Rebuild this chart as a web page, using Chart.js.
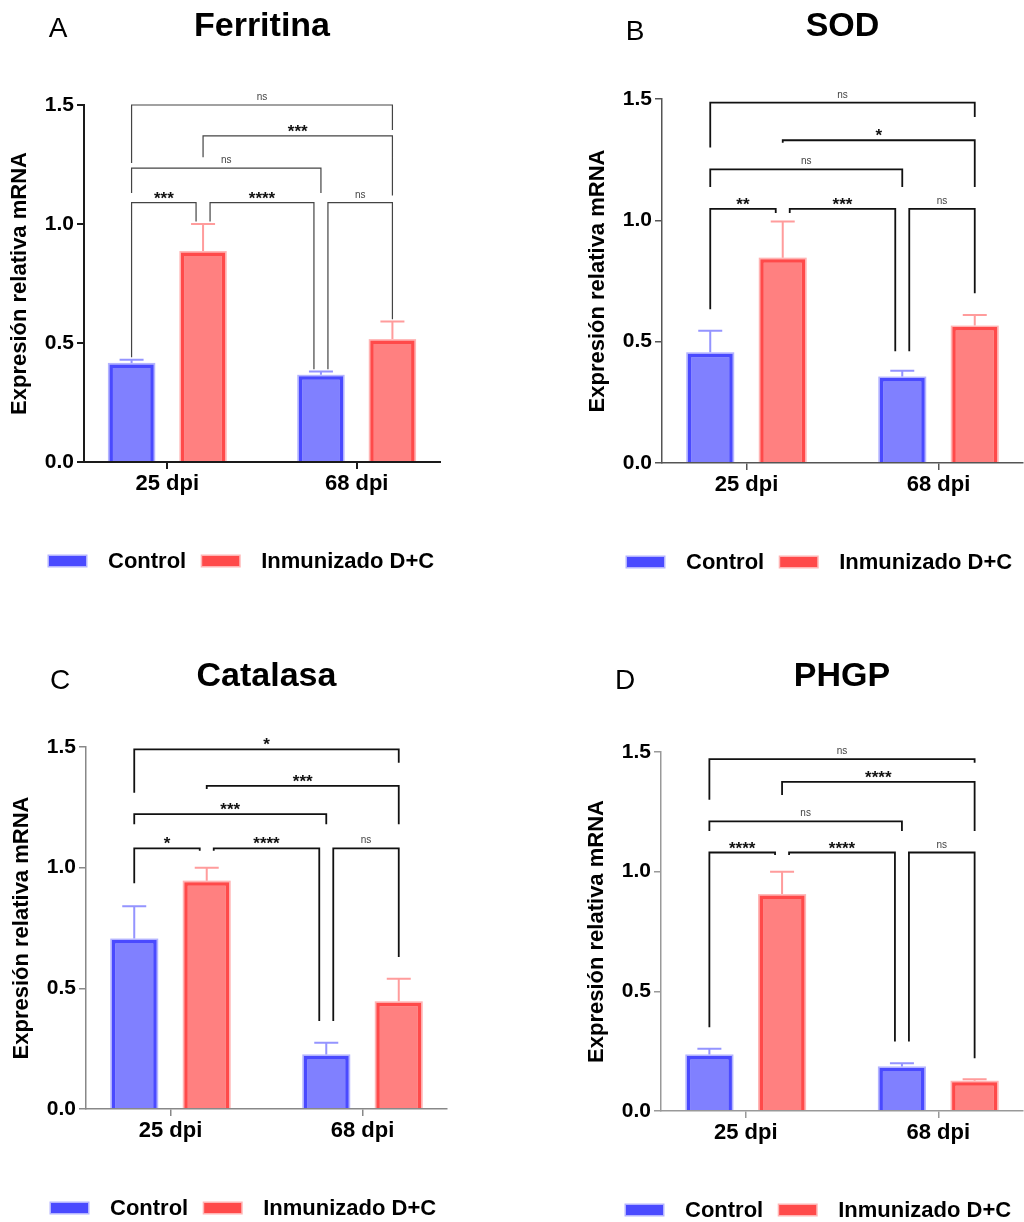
<!DOCTYPE html>
<html>
<head>
<meta charset="utf-8">
<title>Expresión relativa mRNA</title>
<script src="https://cdn.jsdelivr.net/npm/chart.js@4.4.1/dist/chart.umd.min.js"></script>
<style>
  body { margin: 0; background: #fff; }
  #wrap { position: relative; width: 1024px; height: 1222px; }
  canvas { position: absolute; }
</style>
</head>
<body>
<div id="wrap">
  <canvas id="ferritina" width="512" height="611" style="left:0;top:0"></canvas>
  <canvas id="sod" width="512" height="611" style="left:512px;top:0"></canvas>
  <canvas id="catalasa" width="512" height="611" style="left:0;top:611px"></canvas>
  <canvas id="phgp" width="512" height="611" style="left:512px;top:611px"></canvas>
</div>
<script>
const categories = ['25 dpi', '68 dpi'];
const seriesNames = ['Control', 'Inmunizado D+C'];
const yTitle = 'Expresión relativa mRNA';
const yTicks = [0, 0.5, 1.0, 1.5];

// mean and SEM per category
const ferritinaControl = [0.41, 0.36];
const ferritinaControlSem = [0.02, 0.02];
const ferritinaInmunizado = [0.88, 0.51];
const ferritinaInmunizadoSem = [0.12, 0.08];

const sodControl = [0.45, 0.35];
const sodControlSem = [0.095, 0.03];
const sodInmunizado = [0.84, 0.56];
const sodInmunizadoSem = [0.155, 0.05];

const catalasaControl = [0.70, 0.22];
const catalasaControlSem = [0.14, 0.055];
const catalasaInmunizado = [0.94, 0.44];
const catalasaInmunizadoSem = [0.06, 0.10];

const phgpControl = [0.23, 0.18];
const phgpControlSem = [0.03, 0.02];
const phgpInmunizado = [0.90, 0.12];
const phgpInmunizadoSem = [0.10, 0.013];

// bars: 0 = Control 25, 1 = Inmunizado 25, 2 = Control 68, 3 = Inmunizado 68
// [from bar, to bar, bracket level, left leg end, right leg end, label]
const ferritinaBrackets = [
  [0, 3, 1.50, 1.256, 1.395, 'ns'],
  [1, 3, 1.37, 1.28, 1.12, '***'],
  [0, 2, 1.235, 1.13, 1.13, 'ns'],
  [0, 1, 1.09, 0.44, 1.01, '***'],
  [1, 2, 1.09, 1.01, 0.39, '****'],
  [2, 3, 1.09, 0.39, 0.60, 'ns']
];
const sodBrackets = [
  [0, 3, 1.485, 1.30, 1.426, 'ns'],
  [1, 3, 1.33, 1.32, 1.137, '*'],
  [0, 2, 1.21, 1.137, 1.137, 'ns'],
  [0, 1, 1.047, 0.634, 1.03, '**'],
  [1, 2, 1.047, 1.03, 0.46, '***'],
  [2, 3, 1.047, 0.46, 0.70, 'ns']
];
const catalasaBrackets = [
  [0, 3, 1.49, 1.31, 1.435, '*'],
  [1, 3, 1.339, 1.326, 1.18, '***'],
  [0, 2, 1.222, 1.18, 1.18, '***'],
  [0, 1, 1.08, 0.935, 1.07, '*'],
  [1, 2, 1.08, 1.07, 0.365, '****'],
  [2, 3, 1.08, 0.365, 0.63, 'ns']
];
const phgpBrackets = [
  [0, 3, 1.47, 1.30, 1.455, 'ns'],
  [1, 3, 1.375, 1.32, 1.17, '****'],
  [0, 2, 1.21, 1.17, 1.17, 'ns'],
  [0, 1, 1.08, 0.35, 1.07, '****'],
  [1, 2, 1.08, 1.07, 0.29, '****'],
  [2, 3, 1.08, 0.29, 0.22, 'ns']
];

const FONT = "'Liberation Sans', Arial, Helvetica, sans-serif";
const blue = { fill: '#8080ff', edge: '#4a4aff', err: '#9494ff', glow: '#b4b4ff' };
const red = { fill: '#ff8080', edge: '#ff4a4a', err: '#ff9c9c', glow: '#ffb4b4' };

const panels = [
  { id: 'ferritina', title: 'Ferritina', letter: 'A',
    ctrl: ferritinaControl, ctrlSem: ferritinaControlSem, inm: ferritinaInmunizado, inmSem: ferritinaInmunizadoSem,
    brackets: ferritinaBrackets,
    area: { l: 84, t: 105, r: 440, b: 462 }, titleY: 27, letterX: 58, letterY: 29,
    lineW: 1.2, lineC: '#444', axisC: '#1a1a1a', axisW: 2 },
  { id: 'sod', title: 'SOD', letter: 'B',
    ctrl: sodControl, ctrlSem: sodControlSem, inm: sodInmunizado, inmSem: sodInmunizadoSem,
    brackets: sodBrackets,
    area: { l: 150, t: 99, r: 511, b: 463 }, titleY: 27, letterX: 123, letterY: 32,
    lineW: 1.8, lineC: '#111', axisC: '#555', axisW: 1.5 },
  { id: 'catalasa', title: 'Catalasa', letter: 'C',
    ctrl: catalasaControl, ctrlSem: catalasaControlSem, inm: catalasaInmunizado, inmSem: catalasaInmunizadoSem,
    brackets: catalasaBrackets,
    area: { l: 86, t: 136, r: 447, b: 498 }, titleY: 66, letterX: 60, letterY: 70,
    lineW: 1.8, lineC: '#111', axisC: '#888', axisW: 1.5 },
  { id: 'phgp', title: 'PHGP', letter: 'D',
    ctrl: phgpControl, ctrlSem: phgpControlSem, inm: phgpInmunizado, inmSem: phgpInmunizadoSem,
    brackets: phgpBrackets,
    area: { l: 149, t: 141, r: 511, b: 500 }, titleY: 66, letterX: 113, letterY: 70,
    lineW: 1.8, lineC: '#111', axisC: '#999', axisW: 1.5 }
];

const extras = {
  id: 'extras',
  beforeDatasetsDraw(chart) {
    // soft outer edge round each bar, like the GraphPad export
    const ctx = chart.ctx;
    ctx.save();
    [blue, red].forEach((col, d) => {
      ctx.fillStyle = col.glow;
      chart.getDatasetMeta(d).data.forEach(bar => {
        ctx.fillRect(bar.x - bar.width / 2 - 1.5, bar.y - 1.5, bar.width + 3, bar.base - bar.y + 1.5);
      });
    });
    ctx.restore();
  },
  afterDatasetsDraw(chart) {
    const p = panels.find(q => q.id === chart.canvas.id);
    const ctx = chart.ctx, y = chart.scales.y;
    const barX = k => chart.getDatasetMeta(k % 2).data[Math.floor(k / 2)].x;
    ctx.save();
    // error bars, mean + SEM only
    [[p.ctrl, p.ctrlSem, blue], [p.inm, p.inmSem, red]].forEach(([vals, sem, col], d) => {
      chart.getDatasetMeta(d).data.forEach((bar, i) => {
        const top = y.getPixelForValue(vals[i] + sem[i]);
        ctx.strokeStyle = col.err;
        ctx.lineWidth = 2;
        ctx.beginPath();
        ctx.moveTo(bar.x, bar.y - 1.5);
        ctx.lineTo(bar.x, top);
        ctx.moveTo(bar.x - 12, top);
        ctx.lineTo(bar.x + 12, top);
        ctx.stroke();
      });
    });
    // significance brackets
    ctx.strokeStyle = p.lineC;
    ctx.lineWidth = p.lineW;
    p.brackets.forEach(([a, b, lvl, endA, endB, txt]) => {
      const same = p.brackets.filter(q => q[2] === lvl);
      let xa = barX(a), xb = barX(b);
      if (same.some(q => q[1] === a)) xa += 7;
      if (same.some(q => q[0] === b)) xb -= 7;
      const yl = y.getPixelForValue(lvl);
      ctx.beginPath();
      ctx.moveTo(xa, y.getPixelForValue(endA));
      ctx.lineTo(xa, yl);
      ctx.lineTo(xb, yl);
      ctx.lineTo(xb, y.getPixelForValue(endB));
      ctx.stroke();
      ctx.textAlign = 'center';
      ctx.textBaseline = 'alphabetic';
      if (txt === 'ns') {
        ctx.font = '10px ' + FONT;
        ctx.fillStyle = '#444';
        ctx.fillText(txt, (xa + xb) / 2, yl - 5);
      } else {
        ctx.font = 'bold 17px ' + FONT;
        ctx.fillStyle = '#111';
        ctx.fillText(txt, (xa + xb) / 2, yl + 1);
      }
    });
    ctx.restore();
  },
  afterDraw(chart) {
    const p = panels.find(q => q.id === chart.canvas.id);
    const ctx = chart.ctx, area = chart.chartArea;
    ctx.save();
    ctx.fillStyle = '#000';
    ctx.textBaseline = 'middle';
    ctx.textAlign = 'center';
    ctx.font = 'bold 34px ' + FONT;
    ctx.fillText(p.title, (area.left + area.right) / 2, p.titleY);
    ctx.font = '28px ' + FONT;
    ctx.fillText(p.letter, p.letterX, p.letterY);
    // legend
    const ly = area.bottom + 99;
    let x = area.left - 35;
    ctx.textAlign = 'left';
    ctx.font = 'bold 22px ' + FONT;
    chart.data.datasets.forEach((ds, d) => {
      const col = d ? red : blue;
      ctx.fillStyle = col.glow;
      ctx.fillRect(x - 1.5, ly - 6.5, 40, 13);
      ctx.fillStyle = col.edge;
      ctx.fillRect(x, ly - 5, 37, 10);
      ctx.fillStyle = '#000';
      ctx.fillText(ds.label, x + 59, ly + 1);
      x += 59 + ctx.measureText(ds.label).width + 16;
    });
    ctx.restore();
  }
};

panels.forEach(p => {
  const mk = (name, vals, col) => ({
    label: name,
    data: categories.map((c, i) => ({ x: i, y: vals[i] })),
    backgroundColor: col.fill,
    borderColor: col.edge,
    borderWidth: 3.5,
    categoryPercentage: 0.755,
    barPercentage: 0.62
  });
  new Chart(document.getElementById(p.id), {
    type: 'bar',
    data: { datasets: [mk(seriesNames[0], p.ctrl, blue), mk(seriesNames[1], p.inm, red)] },
    options: {
      responsive: false,
      animation: false,
      layout: { padding: { left: p.area.l - 84, top: p.area.t, right: 512 - p.area.r, bottom: 611 - p.area.b - 60 } },
      plugins: { legend: { display: false }, tooltip: { enabled: false } },
      scales: {
        x: {
          type: 'linear', min: -0.44, max: 1.44, offset: false,
          afterBuildTicks: s => { s.ticks = categories.map((c, i) => ({ value: i })); },
          afterFit: s => { s.height = 60; },
          ticks: { callback: v => categories[v] ?? '', font: { family: FONT, size: 22, weight: 'bold' }, color: '#000', padding: 2, autoSkip: false, maxRotation: 0 },
          grid: { offset: false, drawOnChartArea: false, tickLength: 7, color: p.axisC, lineWidth: p.axisW },
          border: { color: p.axisC, width: p.axisW, z: 1 }
        },
        y: {
          type: 'linear', min: 0, max: 1.5,
          afterBuildTicks: s => { s.ticks = yTicks.map(v => ({ value: v })); },
          afterFit: s => { s.width = 84; },
          ticks: { callback: v => v.toFixed(1), font: { family: FONT, size: 21, weight: 'bold' }, color: '#000', padding: 3 },
          grid: { drawOnChartArea: false, tickLength: 7, color: p.axisC, lineWidth: p.axisW },
          border: { color: p.axisC, width: p.axisW },
          title: { display: true, text: yTitle, font: { family: FONT, size: 22, weight: 'bold' }, color: '#000', padding: { top: 7, bottom: 0 } }
        }
      }
    },
    plugins: [extras]
  });
});
</script>
</body>
</html>
